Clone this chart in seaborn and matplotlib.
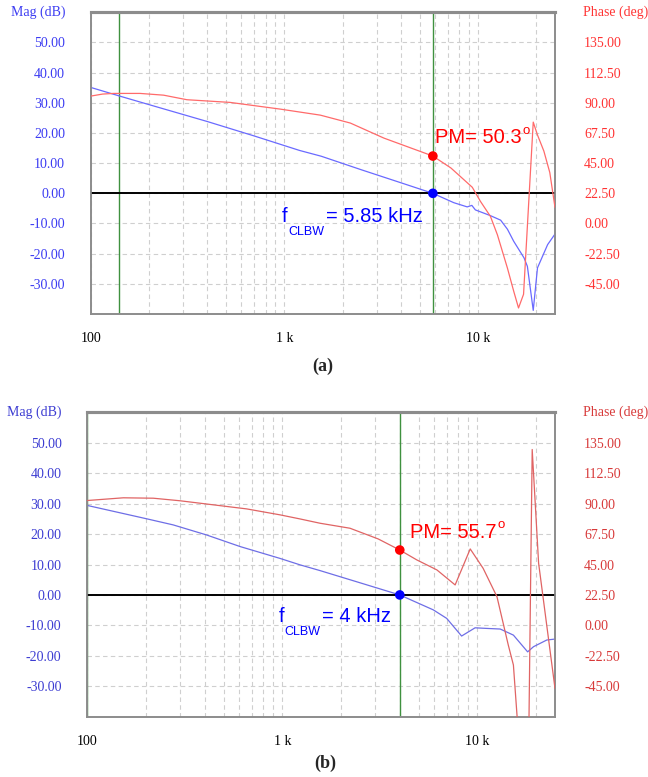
import numpy as np
import pandas as pd
import matplotlib
matplotlib.use("Agg")
import matplotlib.pyplot as plt
import seaborn as sns
from matplotlib.ticker import FixedLocator, NullFormatter

sns.set_style("white")
plt.rcParams['font.family'] = ['Liberation Serif', 'DejaVu Serif']

# ---------------- data ----------------
# panel (a)
freq_a_mag = [100, 140, 200, 400, 700, 1200, 1550, 2500, 4000, 5850, 7500, 8800, 9300, 9700,
              11600, 13100, 14200, 15300, 17300, 18000, 19300, 20300, 22900, 25000]
mag_a = [35.1, 32.3, 29.4, 23.8, 19.0, 14.2, 12.3, 7.8, 3.5, 0.0, -3.1, -4.5, -4.0, -5.5,
         -7.4, -8.9, -11.9, -15.9, -21.4, -24.2, -38.8, -24.7, -17.0, -13.5]
freq_a_ph = [100, 115, 131, 180, 238, 314, 525, 953, 1535, 2193, 3266, 5850, 7250, 9350,
             10300, 11600, 12600, 14200, 15300, 16200, 17200, 19300, 20300, 21900, 23500, 25000]
phase_a = [95.0, 96.5, 97.0, 97.0, 95.7, 92.3, 90.3, 85.3, 80.8, 74.9, 63.7, 50.3, 41.4, 27.0,
           16.5, 5.3, -8.4, -33.3, -50.5, -63.0, -52.8, 75.6, 66.0, 54.0, 38.0, 12.0]
fc_a = [5850]
pm_a = [50.3]
marker_a_freq = [140, 5850]

# panel (b)
freq_b_mag = [100, 202, 276, 409, 607, 973, 1230, 1560, 2500, 4000, 5940, 6960, 8300, 9730,
              11200, 13100, 15300, 18100, 19400, 22700, 25000]
mag_b = [29.4, 25.0, 23.0, 19.7, 15.9, 12.0, 9.9, 8.0, 4.0, 0.0, -4.9, -7.7, -13.5, -10.8,
         -11.0, -11.2, -13.2, -18.7, -17.0, -14.8, -14.5]
freq_b_ph = [100, 153, 218, 299, 443, 656, 973, 1230, 1560, 2223, 3100, 4000, 4890, 6200,
             7690, 9190, 10700, 12600, 14400, 15300, 16400, 18300, 19100, 20600, 25000]
phase_b = [92.3, 94.3, 94.0, 92.1, 89.1, 86.1, 81.7, 78.7, 75.5, 71.8, 63.9, 55.7, 48.4, 41.0,
           29.9, 56.5, 42.2, 21.2, -14.5, -29.3, -90.0, -95.0, 130.0, 46.0, -46.6]
fc_b = [4000]
pm_b = [55.7]
marker_b_freq = [100, 4000]

mag_ticks = [-30, -20, -10, 0, 10, 20, 30, 40, 50]
phase_ticks = [-45, -22.5, 0, 22.5, 45, 67.5, 90, 112.5, 135]
x_ticks = [100, 1000, 10000]
x_labels = ['100', '1 k', '10 k']
x_minor = [m * d for d in (100, 1000) for m in range(2, 10)] + [20000]

W, H = 648, 777
fig = plt.figure(figsize=(W / 100, H / 100), dpi=100)


def fx(px):
    return px / W


def fy(py):
    return 1 - py / H


def make_panel(rect_px, fm, mg, fp, ph, fc, pm, vfreq, cols, texts):
    left, top, right, bottom = rect_px
    ax = fig.add_axes([fx(left), fy(bottom), (right - left) / W, (bottom - top) / H])
    ax.set_xscale('log')
    ax.set_xlim(100, 25000)
    ax.set_ylim(-40, 60)
    ax2 = ax.twinx()
    ax2.set_ylim(-67.5, 157.5)

    dash = (0, (4, 3))
    ax.xaxis.set_major_locator(FixedLocator(x_ticks))
    ax.xaxis.set_minor_locator(FixedLocator(x_minor))
    ax.xaxis.set_minor_formatter(NullFormatter())
    ax.set_xticklabels(x_labels)
    ax.set_yticks(mag_ticks)
    ax.set_yticklabels([f"{v:.2f}" for v in mag_ticks])
    ax2.set_yticks(phase_ticks)
    ax2.set_yticklabels([f"{v:.2f}" for v in phase_ticks])
    ax.grid(True, which='both', axis='x', ls=dash, color='#cfcfcf', lw=0.8)
    ax.grid(True, which='major', axis='y', ls=dash, color='#cfcfcf', lw=0.8)
    ax.tick_params(axis='x', which='both', length=0, pad=13, labelsize=10, labelcolor='black')
    ax.tick_params(axis='y', length=0, pad=18.5, labelsize=10, labelcolor=cols['blue_txt'])
    ax2.tick_params(axis='y', length=0, pad=21, labelsize=10, labelcolor=cols['red_txt'])
    for a in (ax, ax2):
        for s in a.spines.values():
            s.set_color('#8c8c8c')
            s.set_linewidth(1.2)
        a.spines['top'].set_linewidth(2.2)

    for vf in vfreq:
        ax.axvline(vf, color='#3f913f', lw=1.0, zorder=2)
    ax.axhline(0, color='black', lw=1.4, zorder=3)

    sns.lineplot(x=fm, y=mg, ax=ax, color=cols['blue_line'], lw=0.9, legend=False,
                 sort=False, estimator=None, zorder=4)
    sns.lineplot(x=fp, y=ph, ax=ax2, color=cols['red_line'], lw=0.9, legend=False,
                 sort=False, estimator=None, zorder=4)
    sns.scatterplot(x=fc, y=[0.0], ax=ax, color='#0000ff', s=48, edgecolor='none', zorder=6,
                    legend=False)
    sns.scatterplot(x=fc, y=pm, ax=ax2, color='#ff0000', s=48, edgecolor='none', zorder=6,
                    legend=False)
    ax.set_xlabel('')
    ax.set_ylabel('')
    ax2.set_ylabel('')

    fig.text(fx(left - 25.5), fy(top), 'Mag (dB)', ha='right', va='center', fontsize=10,
             color=cols['blue_txt'])
    fig.text(fx(583), fy(top), 'Phase (deg)', ha='left', va='center', fontsize=10,
             color=cols['red_txt'])

    sans = 'Liberation Sans'
    (pmx, pmy), (ox, oy), (fx_, fy_), (sx, sy), (ex, ey), pm_txt, eq_txt = texts
    fig.text(fx(pmx), fy(pmy), pm_txt, ha='left', va='baseline', fontsize=14.5,
             color='#ff0000', family=sans)
    fig.text(fx(ox), fy(oy), 'o', ha='left', va='baseline', fontsize=9.5,
             color='#ff0000', family=sans)
    fig.text(fx(fx_), fy(fy_), 'f', ha='left', va='baseline', fontsize=14.5,
             color='#0000ff', family=sans)
    fig.text(fx(sx), fy(sy), 'CLBW', ha='left', va='baseline', fontsize=9,
             color='#0000ff', family=sans)
    fig.text(fx(ex), fy(ey), eq_txt, ha='left', va='baseline', fontsize=14.5,
             color='#0000ff', family=sans)
    return ax, ax2


cols_a = dict(blue_line='#6a6aff', red_line='#ff6a6a', blue_txt='#3c3cf2', red_txt='#ff3434')
cols_b = dict(blue_line='#6e6ee6', red_line='#e06464', blue_txt='#3c3cd2', red_txt='#d83a3a')

make_panel((90.7, 12.3, 555, 314), freq_a_mag, mag_a, freq_a_ph, phase_a, fc_a, pm_a,
           marker_a_freq, cols_a,
           ((435, 143), (522.5, 134), (281.7, 221.7), (288.3, 235), (326, 221.7),
            'PM= 50.3', '= 5.85 kHz'))
make_panel((87.3, 412.3, 555, 716.7), freq_b_mag, mag_b, freq_b_ph, phase_b, fc_b, pm_b,
           marker_b_freq, cols_b,
           ((410, 538.3), (497.5, 528.5), (278.3, 621.7), (284, 635), (321.7, 621.7),
            'PM= 55.7', '= 4 kHz'))

fig.text(fx(323), fy(366), '(a)', ha='center', va='center', fontsize=13, fontweight='bold')
fig.text(fx(325), fy(763), '(b)', ha='center', va='center', fontsize=13, fontweight='bold')

fig.savefig('out.png', dpi=100)
